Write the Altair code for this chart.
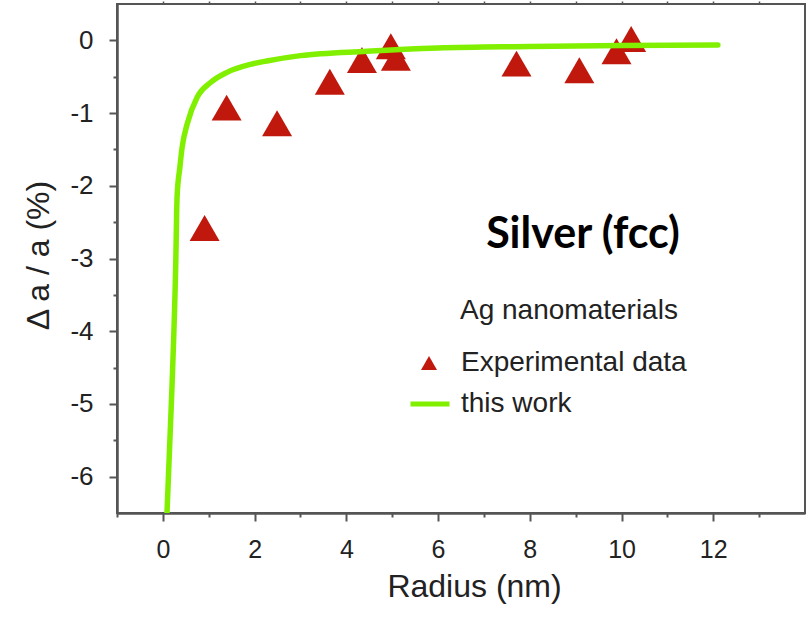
import altair as alt
import pandas as pd

# Experimental lattice contraction of Ag nanomaterials
exp_radius = [0.91, 1.39, 2.49, 3.64, 4.34, 4.97, 5.08, 7.71, 9.08, 9.89, 10.21]
exp_strain = [-2.58, -0.925, -1.14, -0.57, -0.27, -0.08, -0.24, -0.32, -0.41, -0.15, 0.02]

# Model curve ("this work")
model_radius = [0.09, 0.20, 0.28, 0.31, 0.37, 0.42, 0.53, 0.75, 1.04, 1.40, 1.91,
                2.30, 3.0, 4.44, 6.0, 8.0, 10.0, 12.1]
model_strain = [-6.5, -4.75, -3.1, -2.15, -1.75, -1.47, -1.15, -0.78, -0.58, -0.44, -0.33,
                -0.28, -0.21, -0.15, -0.105, -0.085, -0.07, -0.064]

# Tick positions
x_major = [0, 2, 4, 6, 8, 10, 12]
x_minor = [-1, 1, 3, 5, 7, 9, 11, 13]
x_top = list(range(0, 14))
y_major = [-6, -5, -4, -3, -2, -1, 0]
y_minor = [-5.5, -4.5, -3.5, -2.5, -1.5, -0.5]

RED = "#C0180C"
GREEN = "#80F000"
AXIS = "#555555"
INK = "#222222"
FONT = "Liberation Sans"

exp_df = pd.DataFrame({"radius": exp_radius, "strain": exp_strain,
                       "kind": ["Experimental data"] * len(exp_radius)})
model_df = pd.DataFrame({"radius": model_radius, "strain": model_strain,
                         "model": ["this work"] * len(model_radius)})

x_scale = alt.Scale(domain=[-1, 14], nice=False, zero=False)
y_scale = alt.Scale(domain=[-6.5, 0.5], nice=False, zero=False)

minus_fix = "replace(datum.label, '\u2212', '-')"

x_main = alt.Axis(orient="bottom", values=x_major, tickSize=8, tickWidth=2, tickColor=AXIS,
                  domainColor=AXIS, domainWidth=2.5, grid=False,
                  labelFont=FONT, labelFontSize=25, labelColor=INK, labelPadding=16,
                  title="Radius (nm)", titleFont=FONT, titleFontSize=32,
                  titleFontWeight="normal", titleColor=INK, titleX=357, titleY=73,
                  titleAlign="center", titleBaseline="middle")
y_main = alt.Axis(orient="left", values=y_major, tickSize=8, tickWidth=2, tickColor=AXIS,
                  domainColor=AXIS, domainWidth=2.5, grid=False, labelExpr=minus_fix,
                  labelFont=FONT, labelFontSize=26, labelColor=INK, labelPadding=16,
                  title="\u0394 a / a (%)", titleFont=FONT, titleFontSize=32,
                  titleFontWeight="normal", titleColor=INK, titleX=-79, titleY=251,
                  titleAngle=-90, titleAlign="center", titleBaseline="middle")
x_min_axis = alt.Axis(orient="bottom", values=x_minor, tickSize=4, tickWidth=2,
                      tickColor=AXIS, domain=False, labels=False, title=None, grid=False)
y_min_axis = alt.Axis(orient="left", values=y_minor, tickSize=4, tickWidth=2,
                      tickColor=AXIS, domain=False, labels=False, title=None, grid=False)
x_top_axis = alt.Axis(orient="top", values=x_top, tickSize=3, tickWidth=1.5,
                      tickColor=AXIS, domain=False, labels=False, title=None, grid=False)

points = alt.Chart(exp_df).mark_point(filled=True, size=900, color=RED, opacity=1).encode(
    x=alt.X("radius:Q", scale=x_scale, axis=x_main),
    y=alt.Y("strain:Q", scale=y_scale, axis=y_main),
    shape=alt.Shape("kind:N",
                    scale=alt.Scale(domain=["Experimental data"], range=["triangle-up"]),
                    legend=alt.Legend(orient="none", legendX=298, legendY=345, title=None,
                                      symbolSize=256, symbolOpacity=1, symbolStrokeWidth=0,
                                      labelOffset=18, labelFont=FONT, labelFontSize=28,
                                      labelColor=INK, labelLimit=0, padding=0)),
)

curve = alt.Chart(model_df).mark_line(color=GREEN, strokeWidth=5.5, strokeCap="round",
                                      clip=True, interpolate="monotone").encode(
    x=alt.X("radius:Q", scale=x_scale, axis=x_min_axis),
    y=alt.Y("strain:Q", scale=y_scale, axis=y_min_axis),
    color=alt.Color("model:N",
                    scale=alt.Scale(domain=["this work"], range=[GREEN]),
                    legend=alt.Legend(orient="none", legendX=291, legendY=378, title=None,
                                      symbolType="stroke", symbolStrokeWidth=5,
                                      symbolSize=1521, labelOffset=9, labelFont=FONT,
                                      labelFontSize=28, labelColor=INK, labelLimit=0,
                                      padding=0)),
)

top_ticks = alt.Chart(exp_df).mark_point(opacity=0).encode(
    x=alt.X("radius:Q", scale=x_scale, axis=x_top_axis),
    y=alt.Y("strain:Q", scale=y_scale, axis=None),
)

legend_title = alt.Chart(pd.DataFrame({"t": ["Ag nanomaterials"]})).mark_text(
    align="left", baseline="middle", font=FONT, fontSize=28, color=INK
).encode(x=alt.value(343), y=alt.value(307), text="t:N")

metal_label = alt.Chart(pd.DataFrame({"t": ["Silver (fcc)"]})).mark_text(
    align="center", baseline="middle", font="Lato", fontWeight="bold", fontSize=43,
    color="#000000"
).encode(x=alt.value(466), y=alt.value(231), text="t:N")

chart = alt.layer(points, curve, top_ticks, legend_title, metal_label).resolve_axis(
    x="independent", y="independent"
).properties(
    width=688, height=509, autosize="none",
    padding={"left": 117, "top": 4, "right": 7, "bottom": 106},
    background="white",
).configure_view(stroke=AXIS, strokeWidth=2)

chart.save("out.html", embed_options={"renderer": "svg", "actions": False})
